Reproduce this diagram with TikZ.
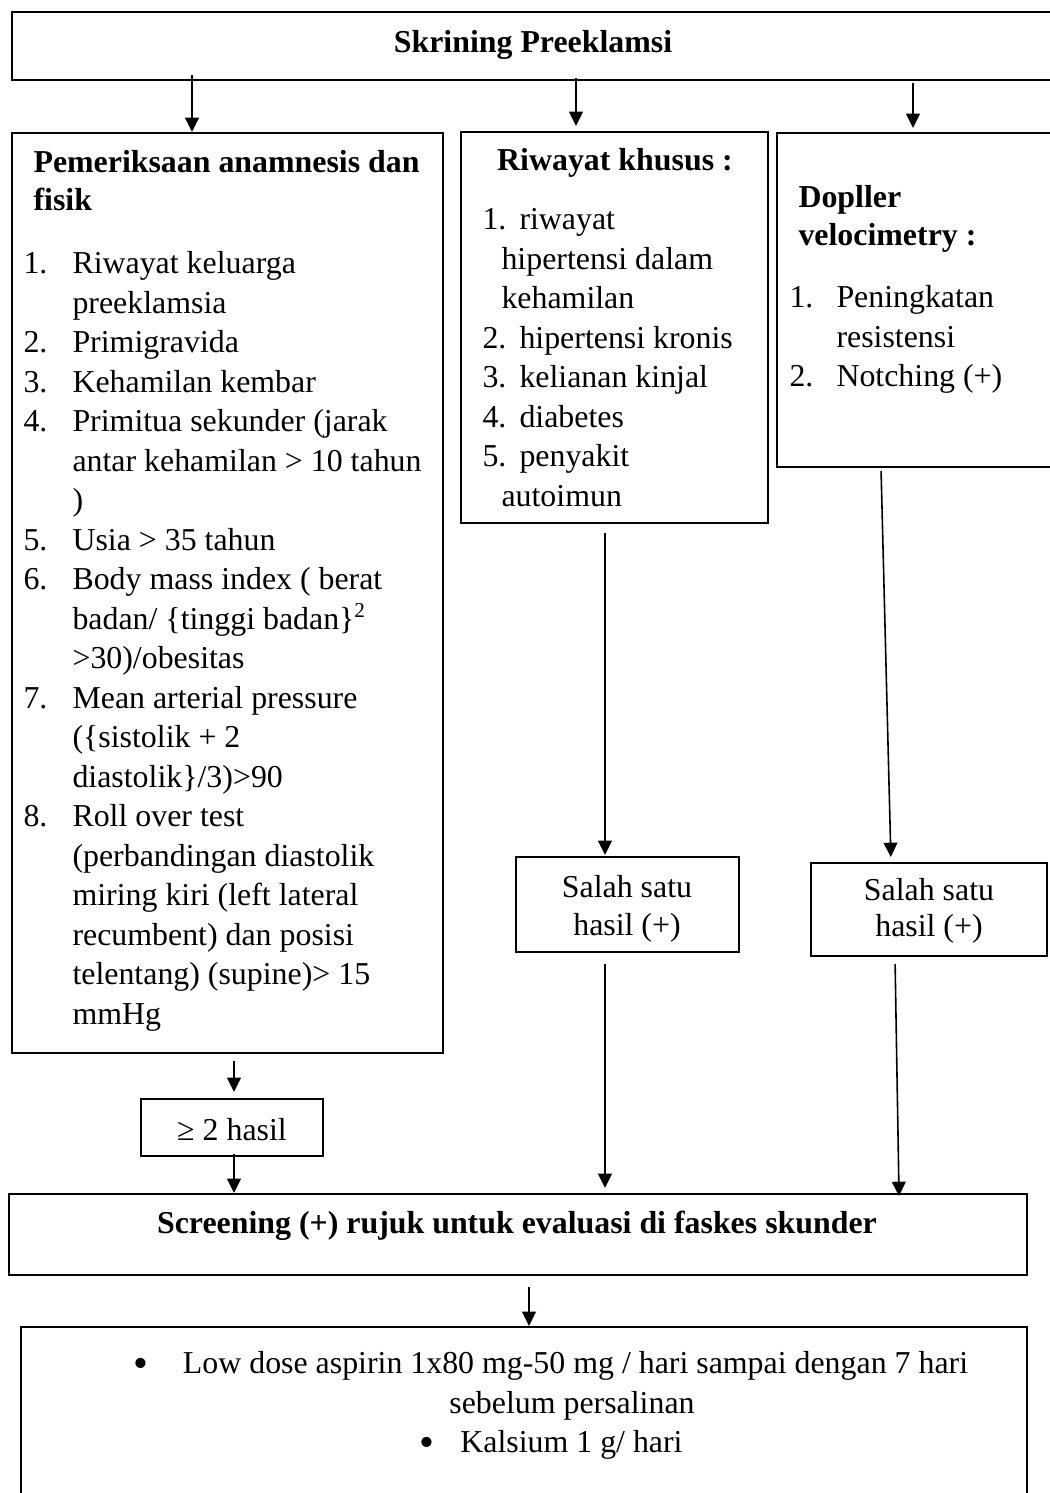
\documentclass[tikz,border=0pt]{standalone}
\usepackage{fontspec}
\setmainfont{Liberation Serif}
\usetikzlibrary{arrows.meta,fit}
\newdimen\px \px=0.3765pt
\newcommand\nm[2][49]{\makebox[#1\px][l]{#2}}
\newcommand\bul{\raisebox{-1.3pt}{\fontsize{16}{16}\selectfont •}}
\tikzset{
  >={Triangle[length=5.4pt, width=5.2pt]},
  %% nodes
  box/.style  = {draw=black, line width=0.75pt, inner sep=0pt},
  txt/.style  = {inner sep=0pt, font=\fontsize{12}{14.87}\selectfont},
  hd/.style   = {txt, font=\fontsize{12}{14.87}\selectfont\bfseries},
  lst/.style  = {txt, align=left, anchor=north west},
  %% arrows
  arr/.style  = {->, draw=black, line width=0.6pt},
}

\begin{document}
\begin{tikzpicture}[
  x=0.3765pt, y=-0.3765pt,
  mid/.style = {txt, align=center, anchor=north},
]
\useasboundingbox (0,0) rectangle (1050,1493);
\clip (0,0) rectangle (1050,1493);

%% top
\node[box, fit={(12,12) (1055,80)}] (skr) {};
\node[hd, anchor=base] (skrt) at (533,52) {Skrining Preeklamsi};

%% column 1: anamnesis
\node[box, fit={(12,133) (443,1053)}] (anam) {};
\node[lst, font=\fontsize{12}{14.4}\selectfont\bfseries] (anamhd) at (33,145.4)
  {\strut Pemeriksaan anamnesis dan\\ fisik};
\node[lst] (anamls) at (23,245.4)
  {\strut\nm{1.}Riwayat keluarga\\ \nm{}preeklamsia\\
   \nm{2.}Primigravida\\
   \nm{3.}Kehamilan kembar\\
   \nm{4.}Primitua sekunder (jarak\\ \nm{}antar kehamilan > 10 tahun\\ \nm{})\\
   \nm{5.}Usia > 35 tahun\\
   \nm{6.}Body mass index ( berat\\ \nm{}badan/ \{tinggi badan\}\textsuperscript{2}\\ \nm{}>30)/obesitas\\
   \nm{7.}Mean arterial pressure\\ \nm{}(\{sistolik + 2\\ \nm{}diastolik\}/3)>90\\
   \nm{8.}Roll over test\\ \nm{}(perbandingan diastolik\\ \nm{}miring kiri (left lateral\\
   \nm{}recumbent) dan posisi\\ \nm{}telentang) (supine)> 15\\ \nm{}mmHg};

%% column 2: riwayat khusus
\node[box, fit={(461,132) (768,523)}] (khusus) {};
\node[hd, anchor=base] (khhd) at (615,170) {Riwayat khusus :};
\node[lst] (khls) at (482,201.4)
  {\strut\nm[37]{1.}riwayat\\ \nm[19]{}hipertensi dalam\\ \nm[19]{}kehamilan\\
   \nm[37]{2.}hipertensi kronis\\
   \nm[37]{3.}kelianan kinjal\\
   \nm[37]{4.}diabetes\\
   \nm[37]{5.}penyakit\\ \nm[19]{}autoimun};

%% column 3: doppler
\node[box, fit={(777,133) (1060,467)}] (dop) {};
\node[lst, font=\fontsize{12}{14.6}\selectfont\bfseries] (dophd) at (798,179.4)
  {\strut Dopller\\ velocimetry :};
\node[lst] (dopls) at (789,279.4)
  {\strut\nm[47]{1.}Peningkatan\\ \nm[47]{}resistensi\\ \nm[47]{2.}Notching (+)};

%% results
\node[box, fit={(516,857) (739,952)}] (sal1) {};
\node[mid, font=\fontsize{12}{14.6}\selectfont] (sal1t) at (627,869.4) {\strut Salah satu\\ hasil (+)};
\node[box, fit={(811,863) (1047,956)}] (sal2) {};
\node[mid, font=\fontsize{12}{13.6}\selectfont] (sal2t) at (929,874.4) {\strut Salah satu\\ hasil (+)};
\node[box, fit={(141,1099) (323,1156)}] (hasil) {};
\node[txt, anchor=base] (hasilt) at (232,1140) {≥ 2 hasil};

%% screening
\node[box, fit={(9,1194) (1027,1275)}] (scr) {};
\node[hd, anchor=base] (scrt) at (517,1233) {Screening (+) rujuk untuk evaluasi di faskes skunder};

%% therapy
\node[box, fit={(21,1327) (1027,1520)}] (terapi) {};
\node[mid] (terapit) at (551,1345.4)
  {\strut\nm{\bul}Low dose aspirin 1x80 mg-50 mg / hari sampai dengan 7 hari\\
   \hspace*{42\px}sebelum persalinan\\
   \nm[41]{\bul}Kalsium 1 g/ hari};

%% arrow columns
\coordinate (x1) at (192,0);
\coordinate (x2) at (576,0);
\coordinate (x3) at (913,0);
\coordinate (xa) at (234,0);
\coordinate (xm) at (605,0);
\coordinate (xd1) at (881,0);
\coordinate (xd2) at (891,0);
\coordinate (xd3) at (895,0);
\coordinate (xd4) at (899,0);
\coordinate (xs) at (529,0);

%% edges
\draw[arr, shorten <=-6\px] (skr.south -| x1) -- (anam.north -| x1);
\draw[arr, shorten <=-3\px, shorten >=5\px] (skr.south -| x2) -- (khusus.north -| x2);
\draw[arr, shorten <=2\px, shorten >=4\px] (skr.south -| x3) -- (dop.north -| x3);
\draw[arr, shorten <=9\px, shorten >=1\px] (khusus.south -| xm) -- (sal1.north -| xm);
\draw[arr, shorten <=11\px, shorten >=5\px] (sal1.south -| xm) -- (scr.north -| xm);
\draw[arr, shorten <=3\px, shorten >=5\px] (dop.south -| xd1) -- (sal2.north -| xd2);
\draw[arr, shorten <=7\px, shorten >=-3\px] (sal2.south -| xd3) -- (scr.north -| xd4);
\draw[arr, shorten <=7\px, shorten >=6\px] (anam.south -| xa) -- (hasil.north -| xa);
\draw[arr, shorten <=-3\px] (hasil.south -| xa) -- (scr.north -| xa);
\draw[arr, shorten <=11\px] (scr.south -| xs) -- (terapi.north -| xs);

\end{tikzpicture}
\end{document}
